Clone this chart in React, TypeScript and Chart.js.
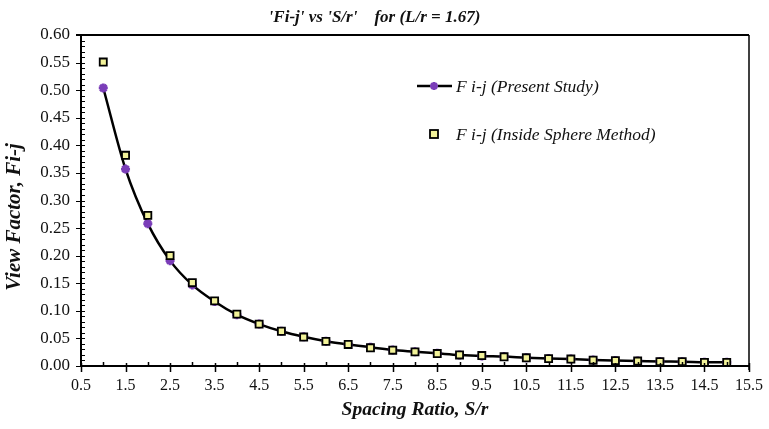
import React, { useEffect, useRef } from 'react';
import { Chart, registerables } from 'chart.js';

Chart.register(...registerables);

// ---- Data ----
const spacingRatio = [1, 1.5, 2, 2.5, 3, 3.5, 4, 4.5, 5, 5.5, 6, 6.5, 7, 7.5, 8, 8.5, 9, 9.5, 10, 10.5, 11, 11.5, 12, 12.5, 13, 13.5, 14, 14.5, 15];
const presentStudy = [0.504, 0.357, 0.258, 0.191, 0.147, 0.117, 0.093, 0.076, 0.063, 0.053, 0.045, 0.039, 0.034, 0.029, 0.026, 0.023, 0.020, 0.018, 0.017, 0.015, 0.0135, 0.0125, 0.011, 0.010, 0.0092, 0.0082, 0.0078, 0.0068, 0.0066];
const insideSphere = [0.551, 0.382, 0.273, 0.200, 0.151, 0.118, 0.094, 0.076, 0.063, 0.0525, 0.0446, 0.039, 0.033, 0.0286, 0.0257, 0.0226, 0.020, 0.019, 0.0167, 0.0149, 0.0133, 0.0126, 0.0105, 0.0096, 0.009, 0.0078, 0.0078, 0.0066, 0.0066];
const xTickValues = [0.5, 1.5, 2.5, 3.5, 4.5, 5.5, 6.5, 7.5, 8.5, 9.5, 10.5, 11.5, 12.5, 13.5, 14.5, 15.5];
const yTickValues = [0, 0.05, 0.1, 0.15, 0.2, 0.25, 0.3, 0.35, 0.4, 0.45, 0.5, 0.55, 0.6];
const seriesLabels = ['F i-j (Present Study)', 'F i-j (Inside Sphere Method)'];
const chartTitle = "'Fi-j' vs 'S/r'    for (L/r = 1.67)";
const xTitle = 'Spacing Ratio, S/r';
const yTitle = 'View Factor, Fi-j';

const SERIF = "'Liberation Serif', 'Times New Roman', serif";
const PURPLE = '#7A3DB8';
const SQUARE_FILL = '#F3F39A';

function drawStar(ctx: CanvasRenderingContext2D, x: number, y: number, r: number) {
  ctx.save();
  ctx.strokeStyle = PURPLE;
  ctx.lineWidth = 2.5;
  ctx.beginPath();
  ctx.moveTo(x - r, y); ctx.lineTo(x + r, y);
  ctx.moveTo(x, y - r); ctx.lineTo(x, y + r);
  const d = r * Math.SQRT1_2;
  ctx.moveTo(x - d, y - d); ctx.lineTo(x + d, y + d);
  ctx.moveTo(x - d, y + d); ctx.lineTo(x + d, y - d);
  ctx.stroke();
  ctx.restore();
}

const framePlugin = {
  id: 'frame',
  afterDatasetsDraw(chart: any) {
    const { ctx, chartArea } = chart;
    const { left, right, top, bottom } = chartArea;
    const xs = chart.scales.x;
    const ys = chart.scales.y;
    ctx.save();
    ctx.strokeStyle = '#000';
    // minor y ticks every 0.01
    ctx.lineWidth = 1;
    ctx.beginPath();
    for (let i = 0; i <= 60; i++) {
      const py = Math.round(ys.getPixelForValue(i / 100)) + 0.5;
      if (i % 5 === 0) {
        ctx.moveTo(left - 5, py); ctx.lineTo(left + 4, py);
      } else {
        ctx.moveTo(left, py); ctx.lineTo(left + 4, py);
      }
    }
    ctx.stroke();
    // x ticks every 0.5
    ctx.lineWidth = 1.5;
    ctx.beginPath();
    for (let i = 1; i <= 31; i++) {
      const v = i * 0.5;
      const px = Math.round(xs.getPixelForValue(v)) + 0.5;
      if (i % 2 === 1) {
        ctx.moveTo(px, bottom - 3); ctx.lineTo(px, bottom + 6);
      } else {
        ctx.moveTo(px, bottom - 4); ctx.lineTo(px, bottom + 1);
      }
    }
    ctx.stroke();
    // axes
    ctx.lineWidth = 2;
    ctx.beginPath();
    ctx.moveTo(left, top - 1); ctx.lineTo(left, bottom);
    ctx.lineTo(right, bottom);
    ctx.moveTo(left - 5, top); ctx.lineTo(right, top);
    ctx.stroke();
    ctx.lineWidth = 1.5;
    ctx.beginPath();
    ctx.moveTo(right, top); ctx.lineTo(right, bottom + 4);
    ctx.stroke();

    // y-axis title
    ctx.save();
    ctx.translate(15, 217);
    ctx.rotate(-Math.PI / 2);
    ctx.font = `italic bold 21px ${SERIF}`;
    ctx.fillStyle = '#111';
    ctx.textAlign = 'center';
    ctx.textBaseline = 'middle';
    ctx.fillText(yTitle, 0, 0);
    ctx.restore();

    // legend
    const ds = chart.data.datasets;
    ctx.font = `italic 17.5px ${SERIF}`;
    ctx.fillStyle = '#111';
    ctx.textBaseline = 'middle';
    ctx.textAlign = 'left';
    const y1 = 86;
    ctx.strokeStyle = '#000';
    ctx.lineWidth = 2.5;
    ctx.beginPath();
    ctx.moveTo(417, y1); ctx.lineTo(452, y1);
    ctx.stroke();
    drawStar(ctx, 434, y1, 4);
    ctx.fillText(ds[0].label, 456, y1 + 1);
    const y2 = 134;
    ctx.fillStyle = SQUARE_FILL;
    ctx.fillRect(430, y2 - 4, 8, 8);
    ctx.lineWidth = 1.8;
    ctx.strokeStyle = '#000';
    ctx.strokeRect(430, y2 - 4, 8, 8);
    ctx.fillStyle = '#111';
    ctx.fillText(ds[1].label, 456, y2 + 1);
    ctx.restore();
  },
};

export default function App() {
  const ref = useRef<HTMLCanvasElement | null>(null);

  useEffect(() => {
    document.body.style.margin = '0';
    const canvas = ref.current;
    if (!canvas) return;
    const chart = new Chart(canvas, {
      type: 'line',
      data: {
        datasets: [
          {
            label: seriesLabels[0],
            data: spacingRatio.map((x, i) => ({ x, y: presentStudy[i] })),
            borderColor: '#000',
            borderWidth: 2.5,
            pointStyle: 'star',
            pointRadius: 4.5,
            pointBorderColor: PURPLE,
            pointBackgroundColor: PURPLE,
            pointBorderWidth: 2.8,
            cubicInterpolationMode: 'monotone',
            order: 2,
          },
          {
            label: seriesLabels[1],
            data: spacingRatio.map((x, i) => ({ x, y: insideSphere[i] })),
            showLine: false,
            pointStyle: 'rect',
            pointRadius: 5,
            pointBackgroundColor: SQUARE_FILL,
            pointBorderColor: '#000',
            pointBorderWidth: 1.8,
            order: 1,
          },
        ],
      },
      options: {
        animation: false,
        responsive: false,
        layout: { padding: { left: 0, right: 20, top: 0, bottom: 0 } },
        plugins: {
          legend: { display: false },
          tooltip: { enabled: false },
          title: {
            display: true,
            text: chartTitle,
            color: '#111',
            font: { family: SERIF, size: 17, weight: 'bold', style: 'italic' },
            padding: { top: 7, bottom: 7.6 },
          },
        },
        scales: {
          x: {
            type: 'linear',
            min: 0.5,
            max: 15.5,
            afterBuildTicks: (s: any) => { s.ticks = xTickValues.map((v) => ({ value: v })); },
            afterFit: (s: any) => { s.height = 63; s.paddingRight = 10; s.paddingLeft = 10; },
            grid: { display: false, drawTicks: false },
            border: { display: false },
            ticks: {
              color: '#111',
              padding: 10,
              maxRotation: 0,
              autoSkip: false,
              font: { family: SERIF, size: 16 },
              callback: (v: any) => Number(v).toFixed(1),
            },
            title: {
              display: true,
              text: xTitle,
              color: '#111',
              font: { family: SERIF, size: 19.5, weight: 'bold', style: 'italic' },
              padding: { top: 0, bottom: 7 },
            },
          },
          y: {
            type: 'linear',
            min: 0,
            max: 0.6,
            afterBuildTicks: (s: any) => { s.ticks = yTickValues.map((v) => ({ value: v })); },
            afterFit: (s: any) => { s.width = 81; },
            grid: { display: false, drawTicks: false },
            border: { display: false },
            ticks: {
              color: '#111',
              padding: 11,
              autoSkip: false,
              font: { family: SERIF, size: 17 },
              callback: (v: any) => Number(v).toFixed(2),
            },
            title: { display: false, text: yTitle },
          },
        },
      },
      plugins: [framePlugin],
    } as any);
    return () => chart.destroy();
  }, []);

  return (
    <div style={{ width: 769, height: 429, background: '#fff' }}>
      <canvas ref={ref} width={769} height={429} />
    </div>
  );
}
